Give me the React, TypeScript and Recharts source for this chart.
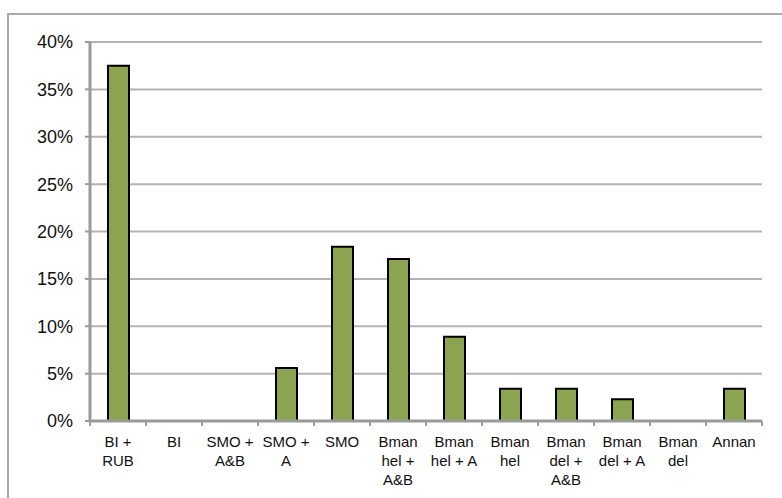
import React from "react";
import { BarChart, Bar, XAxis, YAxis, CartesianGrid } from "recharts";

const categories = [
  "BI +\nRUB",
  "BI",
  "SMO +\nA&B",
  "SMO +\nA",
  "SMO",
  "Bman\nhel +\nA&B",
  "Bman\nhel + A",
  "Bman\nhel",
  "Bman\ndel +\nA&B",
  "Bman\ndel + A",
  "Bman\ndel",
  "Annan",
];
const shares = [0.375, 0, 0, 0.056, 0.184, 0.171, 0.089, 0.034, 0.034, 0.023, 0, 0.034];
const yTicks = [0, 0.05, 0.1, 0.15, 0.2, 0.25, 0.3, 0.35, 0.4];

const data = categories.map((label, i) => ({ label, share: shares[i] }));

const FONT = "'Liberation Sans', Arial, Helvetica, sans-serif";
const AXIS_GRAY = "#9a9a9a";

function XTick(props: any) {
  const { x, y, payload, index, visibleTicksCount, width } = props;
  const half =
    payload && typeof payload.offset === "number" && payload.offset > 0
      ? payload.offset
      : width / visibleTicksCount / 2;
  const lines = String(payload.value).split("\n");
  return (
    <g>
      <line x1={x - half} x2={x - half} y1={y} y2={y + 5} stroke={AXIS_GRAY} strokeWidth={2} />
      {index === visibleTicksCount - 1 && (
        <line x1={x + half} x2={x + half} y1={y} y2={y + 5} stroke={AXIS_GRAY} strokeWidth={2} />
      )}
      <text x={x} y={y} textAnchor="middle" fill="#111" fontSize={15} fontFamily={FONT}>
        {lines.map((l, i) => (
          <tspan key={i} x={x} y={y + 26 + i * 19}>
            {l}
          </tspan>
        ))}
      </text>
    </g>
  );
}

export default function App() {
  return (
    <div
      style={{
        position: "absolute",
        left: 0,
        top: 0,
        width: 782,
        height: 498,
        overflow: "hidden",
        background: "#fff",
      }}
    >
      <div
        style={{
          position: "absolute",
          left: 7,
          top: 13,
          width: 820,
          height: 540,
          border: "2px solid #aaaaaa",
          boxSizing: "border-box",
        }}
      />
      <div style={{ position: "absolute", left: 0, top: 0 }}>
        <BarChart
          width={782}
          height={498}
          data={data}
          margin={{ top: 42, right: 20, bottom: 0, left: 0 }}
        >
          <CartesianGrid vertical={false} stroke="#b3b3b3" strokeWidth={2} />
          <XAxis
            dataKey="label"
            interval={0}
            height={77}
            tickLine={false}
            tickSize={0}
            tickMargin={0}
            axisLine={{ stroke: AXIS_GRAY, strokeWidth: 3 }}
            tick={<XTick />}
          />
          <XAxis
            xAxisId="top"
            dataKey="label"
            orientation="top"
            height={0}
            tick={false}
            tickLine={false}
            axisLine={{ stroke: AXIS_GRAY, strokeWidth: 3 }}
          />
          <YAxis
            width={90}
            domain={[0, 0.4]}
            ticks={yTicks}
            interval={0}
            tickSize={5}
            tickMargin={12}
            tickLine={{ stroke: AXIS_GRAY, strokeWidth: 2 }}
            axisLine={{ stroke: AXIS_GRAY, strokeWidth: 3 }}
            tickFormatter={(v: number) => `${Math.round(v * 100)}%`}
            tick={{ fill: "#111", fontSize: 18, fontFamily: FONT }}
          />
          <YAxis
            yAxisId="right"
            orientation="right"
            width={0}
            domain={[0, 0.4]}
            tick={false}
            tickLine={false}
            axisLine={{ stroke: AXIS_GRAY, strokeWidth: 3 }}
          />
          <Bar
            dataKey="share"
            fill="#8ca44f"
            stroke="#000"
            strokeWidth={2}
            barSize={21}
            isAnimationActive={false}
          />
        </BarChart>
      </div>
    </div>
  );
}
